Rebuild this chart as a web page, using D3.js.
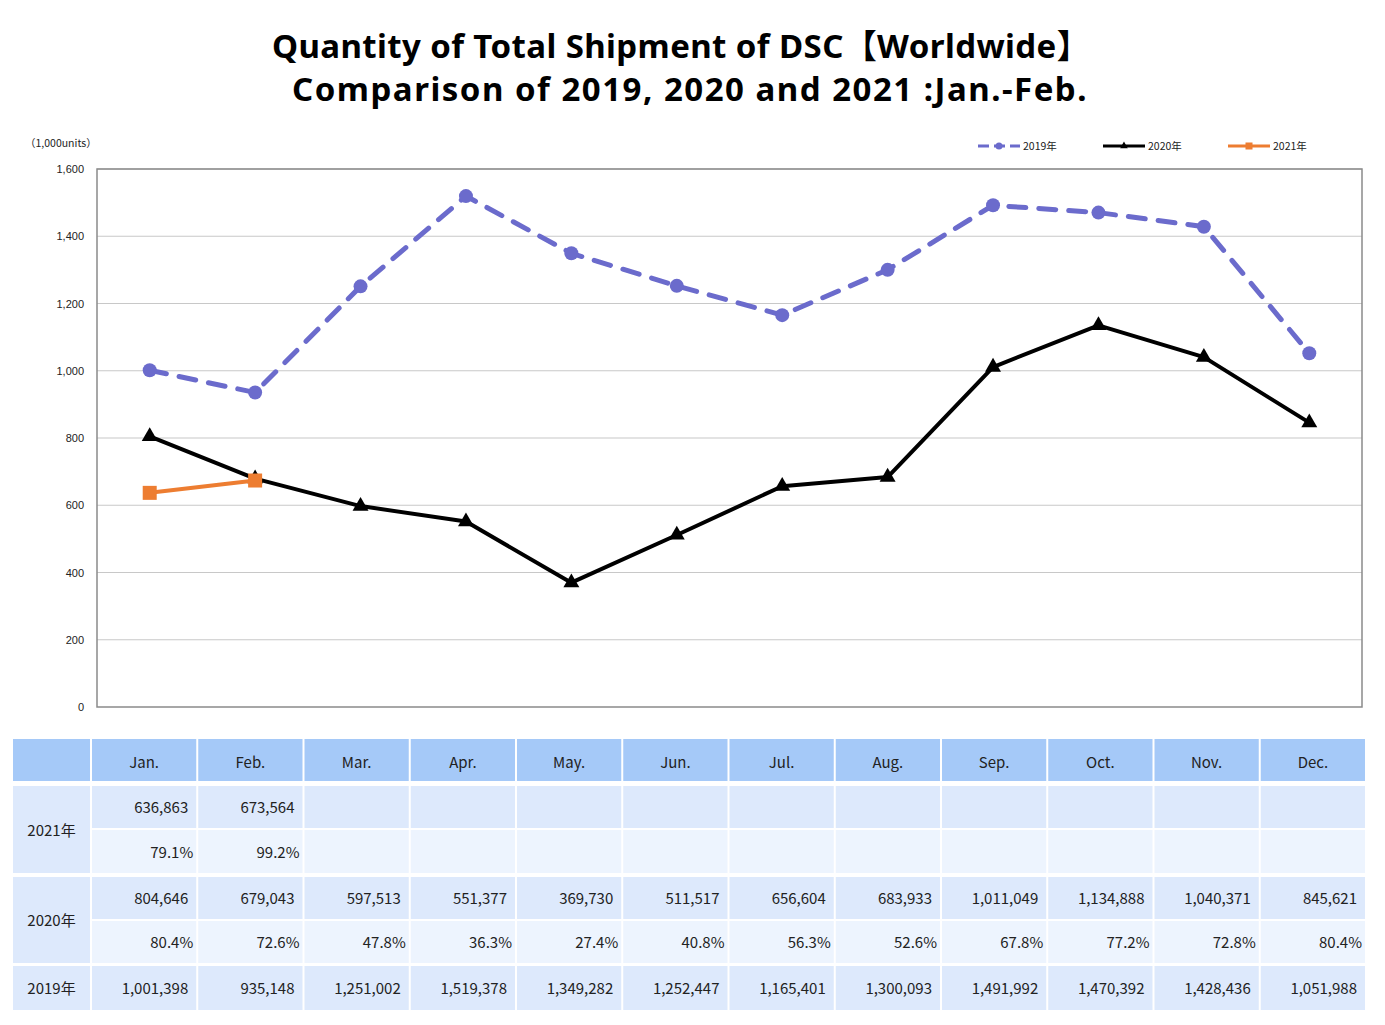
<!DOCTYPE html>
<html>
<head>
<meta charset="utf-8">
<script src="https://cdn.jsdelivr.net/npm/d3@7"></script>
<style>
  body { margin: 0; background: #fff; }
  svg { display: block; }
  text { font-family: "Noto Sans CJK JP", "Liberation Sans", sans-serif; fill: #222; }
</style>
</head>
<body>
<svg id="chart" width="1385" height="1025"></svg>
<script>
const months = ['Jan.', 'Feb.', 'Mar.', 'Apr.', 'May.', 'Jun.', 'Jul.', 'Aug.', 'Sep.', 'Oct.', 'Nov.', 'Dec.'];
const values2019 = [1001398, 935148, 1251002, 1519378, 1349282, 1252447, 1165401, 1300093, 1491992, 1470392, 1428436, 1051988];
const values2020 = [804646, 679043, 597513, 551377, 369730, 511517, 656604, 683933, 1011049, 1134888, 1040371, 845621];
const values2021 = [636863, 673564];
const pct2020 = ['80.4%', '72.6%', '47.8%', '36.3%', '27.4%', '40.8%', '56.3%', '52.6%', '67.8%', '77.2%', '72.8%', '80.4%'];
const pct2021 = ['79.1%', '99.2%'];
const yTicks = [0, 200, 400, 600, 800, 1000, 1200, 1400, 1600];
const titleLines = ['Quantity of Total Shipment of DSC【Worldwide】', 'Comparison of 2019, 2020 and 2021 :Jan.-Feb.'];

const colors = { y2019: '#6b6bcc', y2020: '#000000', y2021: '#ed7d31' };

const svg = d3.select('#chart');
const fmt = d3.format(',');

// title
svg.selectAll('text.title').data(titleLines).enter()
  .append('text')
    .attr('class', 'title')
    .attr('x', (d, i) => i === 0 ? 681 : 690)
    .attr('y', (d, i) => 58 + i * 43)
    .attr('text-anchor', 'middle')
    .style('font-family', '"Noto Sans", "Noto Sans CJK JP", sans-serif')
    .style('font-weight', 'bold')
    .style('font-size', '33px')
    .style('letter-spacing', (d, i) => i === 0 ? '0.4px' : '1.5px')
    .style('fill', '#000')
    .text(d => d);

// plot area
const plot = { left: 97, right: 1362, top: 169, bottom: 707 };
const x = d3.scalePoint().domain(months).range([plot.left, plot.right]).padding(0.5);
const y = d3.scaleLinear().domain([0, 1600]).range([plot.bottom, plot.top]);

const grid = svg.append('g');
grid.selectAll('line').data(yTicks.filter(d => d > 0)).enter()
  .append('line')
    .attr('x1', plot.left).attr('x2', plot.right)
    .attr('y1', d => y(d)).attr('y2', d => y(d))
    .attr('stroke', '#c8c8c8').attr('stroke-width', 1.2);

const yAxis = svg.append('g')
  .attr('transform', `translate(${plot.left},0)`)
  .call(d3.axisLeft(y).tickValues(yTicks).tickFormat(fmt).tickSize(0).tickPadding(13));
yAxis.select('.domain').remove();
yAxis.selectAll('text').style('font-size', '11px').style('fill', '#222')
  .style('font-family', '"Liberation Sans", sans-serif');

svg.append('rect')
  .attr('x', plot.left).attr('y', plot.top)
  .attr('width', plot.right - plot.left).attr('height', plot.bottom - plot.top)
  .attr('fill', 'none').attr('stroke', '#8a8a8a').attr('stroke-width', 1.5);

svg.append('text')
  .attr('x', 25).attr('y', 147)
  .style('font-size', '10.5px')
  .text('（1,000units）');

const line = d3.line().x((d, i) => x(months[i])).y(d => y(d / 1000));

// 2019
svg.append('path').datum(values2019)
  .attr('d', line).attr('fill', 'none')
  .attr('stroke', colors.y2019).attr('stroke-width', 5)
  .attr('stroke-dasharray', '17,13').attr('stroke-linecap', 'round');
svg.append('g').selectAll('circle').data(values2019).enter()
  .append('circle')
    .attr('cx', (d, i) => x(months[i])).attr('cy', d => y(d / 1000))
    .attr('r', 7).attr('fill', colors.y2019);

// 2020
svg.append('path').datum(values2020)
  .attr('d', line).attr('fill', 'none')
  .attr('stroke', colors.y2020).attr('stroke-width', 4)
  .attr('stroke-linejoin', 'round');
svg.append('g').selectAll('path').data(values2020).enter()
  .append('path')
    .attr('transform', (d, i) => `translate(${x(months[i])},${y(d / 1000)})`)
    .attr('d', d3.symbol(d3.symbolTriangle, 110))
    .attr('fill', colors.y2020);

// 2021
svg.append('path').datum(values2021)
  .attr('d', line).attr('fill', 'none')
  .attr('stroke', colors.y2021).attr('stroke-width', 4);
svg.append('g').selectAll('rect').data(values2021).enter()
  .append('rect')
    .attr('x', (d, i) => x(months[i]) - 7).attr('y', d => y(d / 1000) - 7)
    .attr('width', 14).attr('height', 14)
    .attr('fill', colors.y2021);

// legend
const legendItems = [
  { label: '2019年', color: colors.y2019, x: 978, type: 'circle' },
  { label: '2020年', color: colors.y2020, x: 1103, type: 'triangle' },
  { label: '2021年', color: colors.y2021, x: 1228, type: 'square' }
];
const legend = svg.append('g').selectAll('g').data(legendItems).enter()
  .append('g').attr('transform', d => `translate(${d.x},146)`);
legend.append('line')
  .attr('x1', 0).attr('x2', 42).attr('y1', 0).attr('y2', 0)
  .attr('stroke', d => d.color).attr('stroke-width', 3)
  .attr('stroke-dasharray', d => d.type === 'circle' ? '11,5' : null);
legend.each(function(d) {
  const g = d3.select(this);
  if (d.type === 'circle') g.append('circle').attr('cx', 21).attr('r', 3.5).attr('fill', d.color);
  else if (d.type === 'triangle') g.append('path').attr('transform', 'translate(21,0)').attr('d', d3.symbol(d3.symbolTriangle, 25)).attr('fill', d.color);
  else g.append('rect').attr('x', 17.5).attr('y', -3.5).attr('width', 7).attr('height', 7).attr('fill', d.color);
});
legend.append('text')
  .attr('x', 45).attr('y', 4)
  .style('font-size', '10.5px')
  .text(d => d.label);

// table
const tbl = { left: 13, labelRight: 90, right: 1366 };
const tx = d3.scaleBand().domain(months).range([tbl.labelRight + 1, tbl.right]);
const rows = [
  { key: 'head', top: 739, bottom: 781, fill: '#a5c9f8' },
  { key: 'v2021', top: 786, bottom: 828, fill: '#dde9fc' },
  { key: 'p2021', top: 830, bottom: 873, fill: '#edf4fe' },
  { key: 'v2020', top: 877, bottom: 919, fill: '#dde9fc' },
  { key: 'p2020', top: 921, bottom: 963, fill: '#edf4fe' },
  { key: 'v2019', top: 966, bottom: 1010, fill: '#dde9fc' }
];
const table = svg.append('g');
const gap = 2;

rows.forEach(r => {
  table.selectAll(null).data(months).enter()
    .append('rect')
      .attr('x', d => tx(d) + gap / 2).attr('y', r.top)
      .attr('width', tx.bandwidth() - gap).attr('height', r.bottom - r.top)
      .attr('fill', r.fill);
});

const labelCells = [
  { label: '', top: 739, bottom: 781, fill: '#a5c9f8' },
  { label: '2021年', top: 786, bottom: 873, fill: '#dde9fc' },
  { label: '2020年', top: 877, bottom: 963, fill: '#dde9fc' },
  { label: '2019年', top: 966, bottom: 1010, fill: '#dde9fc' }
];
table.selectAll('rect.lab').data(labelCells).enter()
  .append('rect')
    .attr('class', 'lab')
    .attr('x', tbl.left).attr('y', d => d.top)
    .attr('width', tbl.labelRight - tbl.left).attr('height', d => d.bottom - d.top)
    .attr('fill', d => d.fill);
table.selectAll('text.lab').data(labelCells).enter()
  .append('text')
    .attr('class', 'lab')
    .attr('x', (tbl.left + tbl.labelRight) / 2)
    .attr('y', d => (d.top + d.bottom) / 2 + 6)
    .attr('text-anchor', 'middle')
    .style('font-size', '15px')
    .text(d => d.label);

// header
table.selectAll('text.head').data(months).enter()
  .append('text')
    .attr('class', 'head')
    .attr('x', d => tx(d) + tx.bandwidth() / 2)
    .attr('y', 768)
    .attr('text-anchor', 'middle')
    .style('font-size', '15px')
    .text(d => d);

const cellText = (data, r, pad) => {
  table.selectAll(null).data(data).enter()
    .append('text')
      .attr('x', (d, i) => tx(months[i]) + tx.bandwidth() - pad)
      .attr('y', (r.top + r.bottom) / 2 + 6)
      .attr('text-anchor', 'end')
      .style('font-size', '15px')
      .text(d => d);
};
cellText(values2021.map(fmt), rows[1], 9);
cellText(pct2021, rows[2], 4);
cellText(values2020.map(fmt), rows[3], 9);
cellText(pct2020, rows[4], 4);
cellText(values2019.map(fmt), rows[5], 9);
</script>
</body>
</html>
